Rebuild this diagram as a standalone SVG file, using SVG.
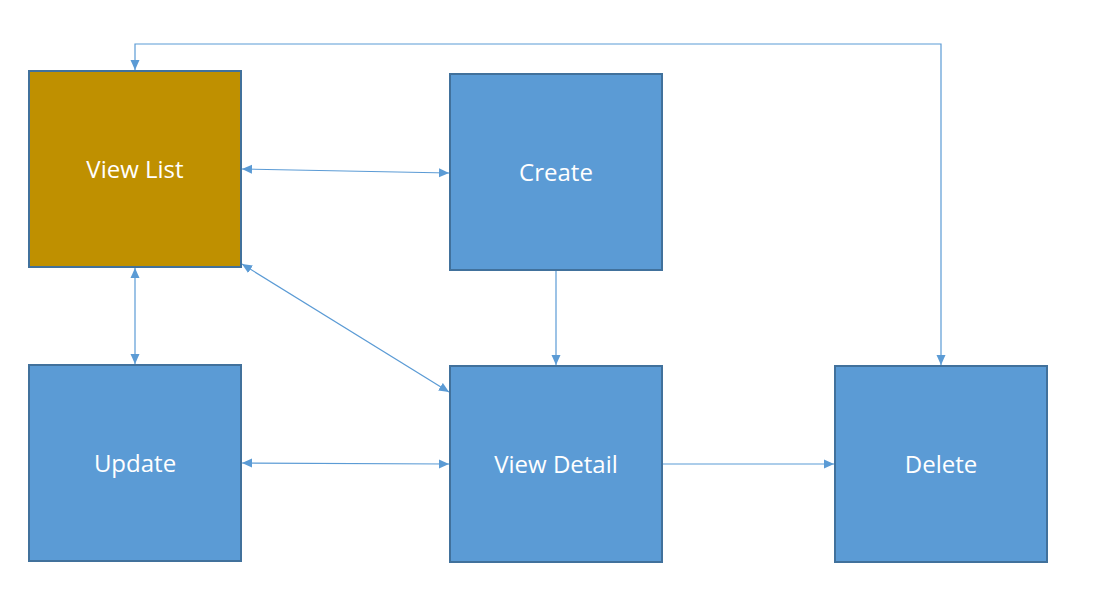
<svg xmlns="http://www.w3.org/2000/svg" width="1099" height="603" viewBox="0 0 1099 603">
<style>
.box{stroke:#41719C;stroke-width:2}
.blue{fill:#5B9BD5}
.gold{fill:#BF9000}
.lbl{fill:#FFFFFF;font-family:"Open Sans","Liberation Sans",sans-serif;font-size:24px;text-anchor:middle}
.c{fill:none;stroke:#5B9BD5;stroke-width:1.2}
</style>
<defs>
<marker id="ae" markerUnits="userSpaceOnUse" markerWidth="10" markerHeight="10" viewBox="0 0 10 10" refX="10" refY="5" orient="auto">
<path d="M0,0.5 L10,5 L0,9.5 Z" fill="#5B9BD5"/>
</marker>
<marker id="as" markerUnits="userSpaceOnUse" markerWidth="10" markerHeight="10" viewBox="0 0 10 10" refX="0" refY="5" orient="auto">
<path d="M10,0.5 L0,5 L10,9.5 Z" fill="#5B9BD5"/>
</marker>
</defs>
<rect width="1099" height="603" fill="#FFFFFF"/>
<g id="connectors">
<path class="c" d="M941,365 V44 H135 V70" marker-start="url(#as)" marker-end="url(#ae)"/>
<path class="c" d="M242,169 L449,173" marker-start="url(#as)" marker-end="url(#ae)"/>
<path class="c" d="M242,264 L449,392" marker-start="url(#as)" marker-end="url(#ae)"/>
<path class="c" d="M135,268 L135,364" marker-start="url(#as)" marker-end="url(#ae)"/>
<path class="c" d="M556,271 L556,365" marker-end="url(#ae)"/>
<path class="c" d="M242,463 L449,464" marker-start="url(#as)" marker-end="url(#ae)"/>
<path class="c" d="M663,464 L834,464" marker-end="url(#ae)"/>
</g>
<g id="view-list">
<rect class="box gold" x="29" y="71" width="212" height="196"/>
<text class="lbl" x="135" y="178">View List</text>
</g>
<g id="create">
<rect class="box blue" x="450" y="74" width="212" height="196"/>
<text class="lbl" x="556" y="181">Create</text>
</g>
<g id="update">
<rect class="box blue" x="29" y="365" width="212" height="196"/>
<text class="lbl" x="135" y="472">Update</text>
</g>
<g id="view-detail">
<rect class="box blue" x="450" y="366" width="212" height="196"/>
<text class="lbl" x="556" y="473">View Detail</text>
</g>
<g id="delete">
<rect class="box blue" x="835" y="366" width="212" height="196"/>
<text class="lbl" x="941" y="473">Delete</text>
</g>
</svg>
